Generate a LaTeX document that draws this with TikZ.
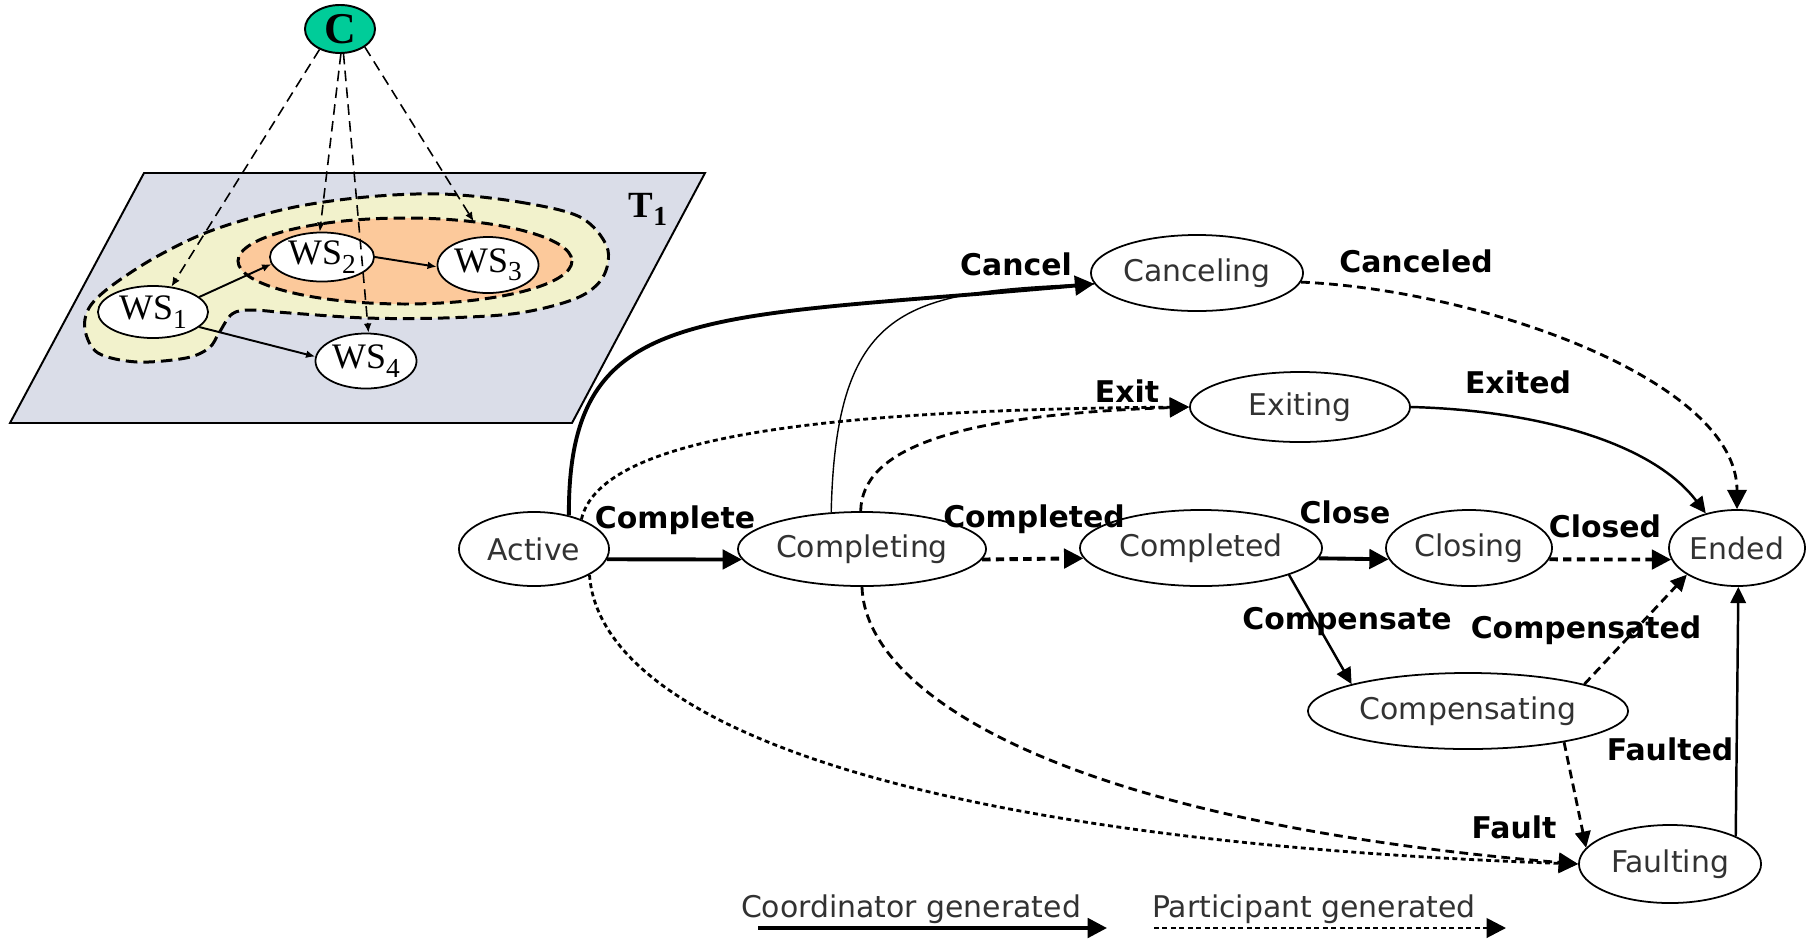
\documentclass[tikz,border=0pt]{standalone}
\usepackage{fontspec}
\newfontfamily\dv{DejaVu Sans}
\newfontfamily\tnr{Liberation Serif}
\usetikzlibrary{arrows.meta,shapes.geometric}
\definecolor{cgreen}{RGB}{0,204,153}
\definecolor{plane}{RGB}{218,221,232}
\definecolor{yel}{RGB}{242,242,204}
\definecolor{org}{RGB}{252,201,155}
\definecolor{txt}{RGB}{50,50,50}
\newcommand\wsub[1]{\raisebox{-2.4pt}{\fontsize{7.8}{9}\selectfont #1}}
\begin{document}
\begin{tikzpicture}[x=0.01cm,y=-0.01cm,
  st/.style={ellipse,draw,line width=0.5pt,inner sep=0pt,font=\dv\fontsize{8.5}{10}\selectfont,text=txt},
  ws/.style={ellipse,draw,fill=white,line width=0.5pt,inner sep=0pt,font=\tnr\fontsize{10.2}{11}\selectfont},
  lbl/.style={anchor=base,inner sep=0pt,font=\dv\bfseries\fontsize{8.5}{10}\selectfont},
  lgd/.style={anchor=base,inner sep=0pt,font=\dv\fontsize{8.5}{10}\selectfont,text=txt},
  bigtip/.style={-{Triangle[length=5.5pt,width=5.5pt]}},
  smalltip/.style={-{Triangle[length=4.6pt,width=4.4pt]}},
  thk/.style={line width=1.1pt,bigtip},
  med/.style={line width=0.7pt,smalltip},
  thinline/.style={line width=0.4pt},
  pd/.style={line width=0.8pt,dash pattern=on 2.5pt off 1.5pt,bigtip},
  pdthick/.style={line width=1.1pt,dash pattern=on 2.4pt off 1.5pt,bigtip},
  pdot/.style={line width=0.8pt,dash pattern=on 1.4pt off 1pt,bigtip},
  cdash/.style={line width=0.45pt,dash pattern=on 3pt off 1.8pt,-{Latex[length=2.6pt,width=2.2pt]}},
  wsarr/.style={line width=0.55pt,-{Latex[length=2.6pt,width=2.2pt]}},
  blob/.style={fill=yel,draw,line width=0.85pt,dash pattern=on 3.3pt off 1.7pt}
]
\useasboundingbox (0,0) rectangle (1806,939);

% ---------- left: transaction plane ----------
\draw[fill=plane,line width=0.55pt] (144,173) -- (705,173) -- (572,423) -- (10,423) -- cycle;
\draw[blob] plot[smooth cycle,tension=0.55] coordinates {
  (442,194) (519,202) (580,217) (607,247) (603,277) (577,298) (519,313)
  (443,318) (366,318) (290,313) (251,310) (232,314) (219,333) (209,348)
  (186,358) (137,362) (98,353) (85,330) (89,308) (110,287) (156,257)
  (213,230) (290,208) (366,197)};
\draw[fill=org,line width=0.85pt,dash pattern=on 3.3pt off 1.7pt] (405,261) ellipse [x radius=167,y radius=43];
\node[anchor=base west,inner sep=0pt,font=\tnr\bfseries\fontsize{10.5}{12}\selectfont] (T1) at (628,217) {T\wsub{1}};

\node[ws,minimum width=1.10cm,minimum height=0.52cm] (WS1) at (153,312) {WS\wsub{1}};
\node[ws,minimum width=1.04cm,minimum height=0.49cm] (WS2) at (322,257) {WS\wsub{2}};
\node[ws,minimum width=1.01cm,minimum height=0.56cm] (WS3) at (488,265) {WS\wsub{3}};
\node[ws,minimum width=1.01cm,minimum height=0.55cm] (WS4) at (366,361) {WS\wsub{4}};
\node[ellipse,draw,fill=cgreen,line width=0.55pt,inner sep=0pt,minimum width=0.70cm,minimum height=0.48cm,
      font=\tnr\bfseries\fontsize{12.5}{14}\selectfont] (C) at (340,29) {C};

\draw[wsarr] (WS1.18) -- (WS2.188);
\draw[wsarr] (WS2.east) -- (WS3.182);
\draw[wsarr] (WS1.-18) -- (WS4.175);
\draw[cdash] (C.-135) -- (WS1.54);
\draw[cdash] (C.-88) -- (WS2.95);
\draw[cdash] (C.-82) -- (WS4.85);
\draw[cdash,shorten >=5pt] (C.-36) -- (WS3.100);

% ---------- right: state machine ----------
\node[st,minimum width=1.50cm,minimum height=0.74cm] (Active) at (534,549) {Active};
\node[st,minimum width=2.48cm,minimum height=0.74cm] (Completing) at (862,549) {Completing};
\node[st,minimum width=2.42cm,minimum height=0.76cm] (Completed) at (1201,548) {Completed};
\node[st,minimum width=1.66cm,minimum height=0.76cm] (Closing) at (1469,548) {Closing};
\node[st,minimum width=1.36cm,minimum height=0.76cm] (Ended) at (1737,548) {Ended};
\node[st,minimum width=2.12cm,minimum height=0.76cm] (Canceling) at (1197,273) {Canceling};
\node[st,minimum width=2.20cm,minimum height=0.70cm] (Exiting) at (1300,407) {Exiting};
\node[st,minimum width=3.20cm,minimum height=0.76cm] (Compensating) at (1468,711) {Compensating};
\node[st,minimum width=1.82cm,minimum height=0.78cm] (Faulting) at (1670,864) {Faulting};

\draw[thk] (Active.44) .. controls (568,300) and (700,320) .. (Canceling.186);
\draw[thinline] (Completing.130) .. controls (836,300) and (910,292) .. (Canceling.186);
\draw[pdot] (Active.32) .. controls (600,440) and (800,410) .. (Exiting.west);
\draw[pd] (Completing.92) .. controls (862,450) and (950,415) .. (Exiting.west);
\draw[thk] (Active.-8) -- (Completing.185);
\draw[pdthick] (Completing.-5) -- (Completed.185);
\draw[thk] (Completed.-5) -- (Closing.188);
\draw[pdthick] (Closing.-8) -- (Ended.190);
\draw[pd] (Canceling.-5) .. controls (1480,290) and (1737,380) .. (Ended.north);
\draw[med] (Exiting.east) .. controls (1530,410) and (1650,440) .. (Ended.132);
\draw[med] (Completed.-17) -- (Compensating.167);
\draw[pd,smalltip] (Compensating.13) -- (Ended.208);
\draw[pd,smalltip] (Compensating.-18) -- (Faulting.169);
\draw[med] (Faulting.23) -- (Ended.-88);
\draw[pdot] (Active.-25) .. controls (600,720) and (900,840) .. (Faulting.west);
\draw[pd] (Completing.south) .. controls (865,690) and (1050,820) .. (Faulting.west);

\node[lbl] (lCancel) at (1016,275) {Cancel};
\node[lbl] (lCanceled) at (1416,272) {Canceled};
\node[lbl] (lExit) at (1127,402) {Exit};
\node[lbl] (lExited) at (1518,393) {Exited};
\node[lbl] (lComplete) at (675,528) {Complete};
\node[lbl] (lCompleted) at (1034,527) {Completed};
\node[lbl] (lClose) at (1345,523) {Close};
\node[lbl] (lClosed) at (1605,537) {Closed};
\node[lbl] (lCompensate) at (1347,629) {Compensate};
\node[lbl] (lCompensated) at (1586,638) {Compensated};
\node[lbl] (lFaulted) at (1670,760) {Faulted};
\node[lbl] (lFault) at (1514,838) {Fault};

% ---------- legend ----------
\coordinate (la) at (758,928);
\coordinate (lb) at (1107,928);
\coordinate (lc) at (1154,928);
\coordinate (ld) at (1506,928);
\draw[thk] (la) -- (lb);
\draw[pdot] (lc) -- (ld);
\node[lgd] (lt1) at (911,917) {Coordinator generated};
\node[lgd] (lt2) at (1314,917) {Participant generated};
\end{tikzpicture}
\end{document}
